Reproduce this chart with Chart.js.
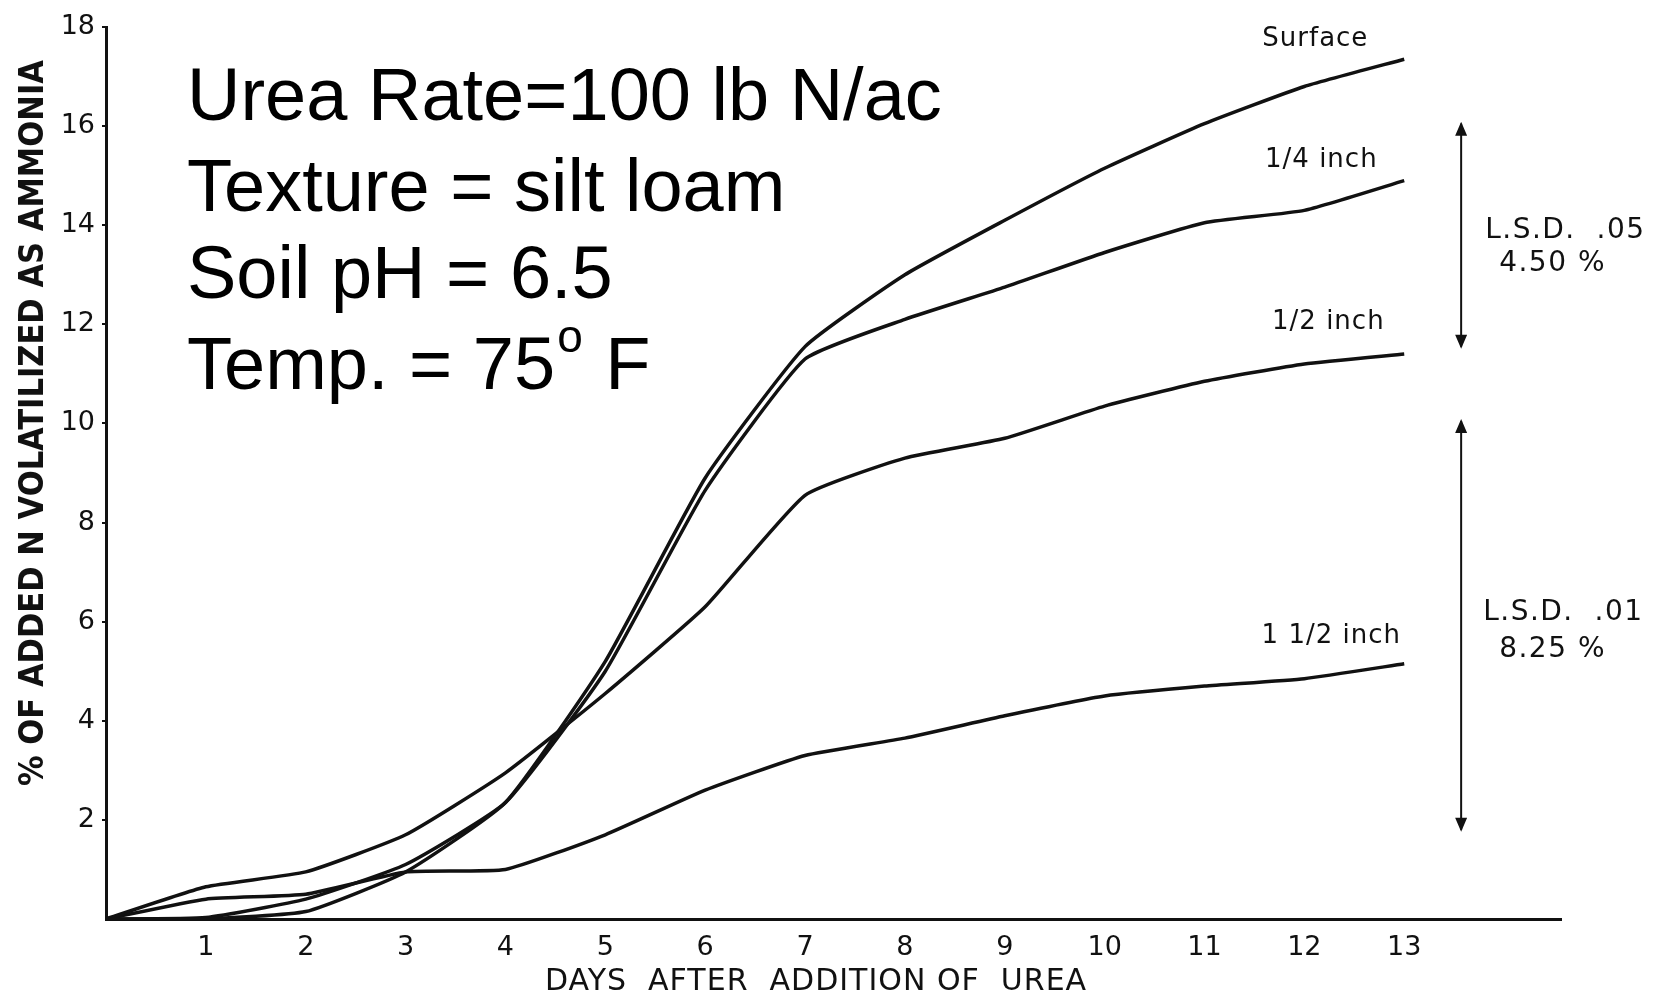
<!DOCTYPE html>
<html>
<head>
<meta charset="utf-8">
<script src="https://cdn.jsdelivr.net/npm/chart.js@4/dist/chart.umd.min.js"></script>
<style>
  body { margin: 0; background: #fff; }
  #graph { display: block; }
</style>
</head>
<body>
<canvas id="graph" width="1671" height="1000"></canvas>
<script>
// Days after urea was added
const days = [0, 1, 2, 3, 4, 5, 6, 7, 8, 9, 10, 11, 12, 13];

// % of added N volatilized as ammonia, one list per placement depth
const surface = [0, 0, 0.15, 0.95, 2.35, 5.2, 8.9, 11.55, 13.0, 14.1, 15.15, 16.05, 16.8, 17.35];
const quarterInch = [0, 0.03, 0.4, 1.1, 2.35, 5.0, 8.65, 11.3, 12.1, 12.75, 13.45, 14.05, 14.3, 14.9];
const halfInch = [0, 0.65, 0.95, 1.7, 2.95, 4.55, 6.3, 8.55, 9.3, 9.7, 10.35, 10.85, 11.2, 11.4];
const oneHalfInch = [0, 0.4, 0.5, 0.95, 1.0, 1.7, 2.6, 3.3, 3.65, 4.1, 4.5, 4.7, 4.85, 5.15];

const seriesNames = ['Surface', '1/4 inch', '1/2 inch', '1 1/2 inch'];

// LSD bars (ends in % units)
const lsd05 = [11.55, 16.05];
const lsd01 = [1.8, 10.05];
const lsdLabels = [['L.S.D.  .05', '4.50 %'], ['L.S.D.  .01', '8.25 %']];

const conditions = ['Urea Rate=100 lb N/ac', 'Texture = silt loam', 'Soil pH = 6.5', 'Temp. = 75'];

const yTicks = [2, 4, 6, 8, 10, 12, 14, 16, 18];
const xTicks = [1, 2, 3, 4, 5, 6, 7, 8, 9, 10, 11, 12, 13];

const xTitle = 'DAYS  AFTER  ADDITION OF  UREA';
const yTitle = '% OF ADDED N VOLATILIZED AS AMMONIA';

const toPoints = (vals) => days.map((d, i) => ({ x: d, y: vals[i] }));

const ink = '#111';
const typeFont = '"DejaVu Sans", sans-serif';

// Text, labels and LSD arrows drawn over the plot
const overlay = {
    id: 'overlay',
    afterDatasetsDraw (chart) {
        const { ctx, scales: { x, y } } = chart;
        ctx.save();
        ctx.fillStyle = '#000';

        // Conditions block
        ctx.font = '74px "Liberation Sans", Arial, sans-serif';
        ctx.textAlign = 'left';
        ctx.textBaseline = 'alphabetic';
        const baselines = [120, 211, 298, 389];
        conditions.forEach((t, i) => ctx.fillText(t, 187, baselines[i]));
        const tw = ctx.measureText(conditions[3]).width;
        ctx.font = '46px "Liberation Sans", Arial, sans-serif';
        ctx.fillText('o', 187 + tw + 2, 352);
        const ow = ctx.measureText('o').width;
        ctx.font = '74px "Liberation Sans", Arial, sans-serif';
        ctx.fillText(' F', 187 + tw + ow + 4, 389);

        // Axis titles
        ctx.fillStyle = ink;
        ctx.textAlign = 'center';
        ctx.textBaseline = 'middle';
        ctx.letterSpacing = '1px';
        ctx.font = '30px ' + typeFont;
        ctx.fillText(xTitle, 816, 982);
        ctx.letterSpacing = '0px';
        ctx.save();
        ctx.translate(34, 423);
        ctx.rotate(-Math.PI / 2);
        ctx.font = 'bold 34px "DejaVu Sans Condensed", "DejaVu Sans", sans-serif';
        ctx.fillText(yTitle, 0, 0);
        ctx.restore();

        // Series labels
        ctx.font = '26px ' + typeFont;
        ctx.letterSpacing = '1px';
        const labelPos = [[12.11, 17.76], [12.17, 15.32], [12.24, 12.05], [12.27, 5.71]];
        seriesNames.forEach((n, i) => {
            ctx.fillText(n, x.getPixelForValue(labelPos[i][0]), y.getPixelForValue(labelPos[i][1]));
        });

        // LSD arrows
        const ax = x.getPixelForValue(13.57);
        const drawArrow = (ends) => {
            const y0 = y.getPixelForValue(ends[0]);
            const y1 = y.getPixelForValue(ends[1]);
            ctx.strokeStyle = ink;
            ctx.lineWidth = 2;
            ctx.beginPath();
            ctx.moveTo(ax, y0);
            ctx.lineTo(ax, y1);
            ctx.stroke();
            ctx.beginPath();
            ctx.moveTo(ax, y1 - 2);
            ctx.lineTo(ax - 6, y1 + 12);
            ctx.lineTo(ax + 6, y1 + 12);
            ctx.closePath();
            ctx.moveTo(ax, y0 + 2);
            ctx.lineTo(ax - 6, y0 - 12);
            ctx.lineTo(ax + 6, y0 - 12);
            ctx.closePath();
            ctx.fill();
        };
        drawArrow(lsd05);
        drawArrow(lsd01);

        ctx.textAlign = 'left';
        ctx.font = '28px ' + typeFont;
        ctx.letterSpacing = '1.5px';
        ctx.fillText(lsdLabels[0][0], ax + 24, y.getPixelForValue(13.88));
        ctx.fillText(lsdLabels[0][1], ax + 38, y.getPixelForValue(13.22));
        ctx.fillText(lsdLabels[1][0], ax + 22, y.getPixelForValue(6.18));
        ctx.fillText(lsdLabels[1][1], ax + 38, y.getPixelForValue(5.43));
        ctx.restore();
    }
};

const series = [surface, quarterInch, halfInch, oneHalfInch];

const graph = document.getElementById('graph');
const volatilization = new Chart(graph, {
    type: 'line',
    data: {
        datasets: series.map((vals, i) => ({
            label: seriesNames[i],
            data: toPoints(vals),
            borderColor: ink,
            borderWidth: 3.5,
            pointRadius: 0,
            tension: 0.15,
            fill: false
        }))
    },
    options: {
        responsive: false,
        animation: false,
        layout: { padding: { top: 27, right: 110, left: 0, bottom: 0 } },
        plugins: { legend: { display: false }, tooltip: { enabled: false } },
        scales: {
            x: {
                type: 'linear',
                min: 0,
                max: 14.57,
                afterFit (scale) { scale.height = 81; },
                afterBuildTicks (scale) { scale.ticks = xTicks.map(v => ({ value: v })); },
                grid: { display: false },
                border: { display: true, color: ink, width: 3 },
                ticks: {
                    color: ink,
                    padding: 5,
                    font: { family: typeFont, size: 27 },
                    autoSkip: false,
                    maxRotation: 0
                },
                title: { display: false, text: xTitle }
            },
            y: {
                min: 0,
                max: 18,
                afterFit (scale) { scale.width = 106; },
                afterBuildTicks (scale) { scale.ticks = yTicks.map(v => ({ value: v })); },
                grid: { display: true, drawOnChartArea: false, drawTicks: true, tickLength: 4, color: ink, lineWidth: 2 },
                border: { display: true, color: ink, width: 3 },
                ticks: {
                    color: ink,
                    padding: 7,
                    font: { family: typeFont, size: 27 }
                },
                title: { display: false, text: yTitle }
            }
        }
    },
    plugins: [overlay]
});
</script>
</body>
</html>
